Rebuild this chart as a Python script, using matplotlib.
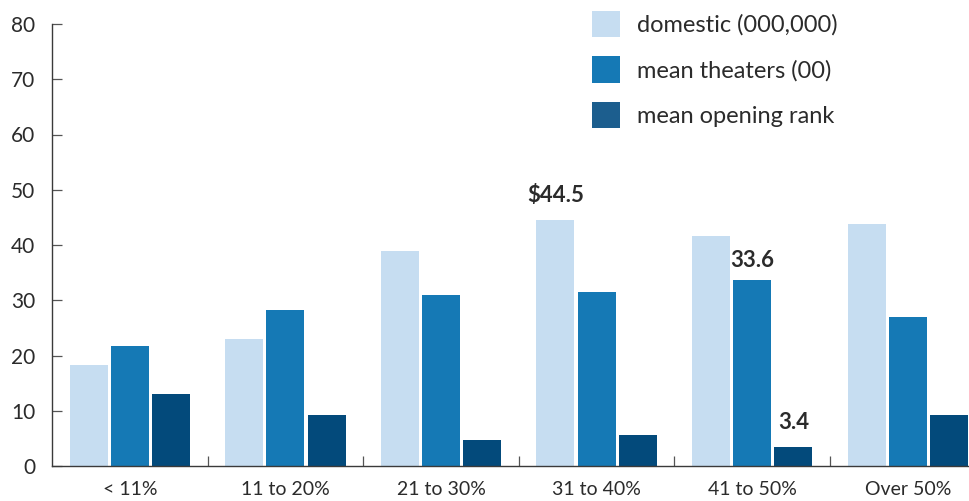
import numpy as np
import matplotlib.pyplot as plt
from matplotlib.patches import Patch

plt.rcParams['font.family'] = ['Lato', 'DejaVu Sans']

# share of budget groups
groups = ['< 11%', '11 to 20%', '21 to 30%', '31 to 40%', '41 to 50%', 'Over 50%']
domestic = [18.3, 23.0, 38.9, 44.5, 41.6, 43.8]
theaters = [21.7, 28.2, 30.9, 31.5, 33.6, 27.0]
opening_rank = [13.0, 9.2, 4.7, 5.6, 3.4, 9.2]
series_names = ['domestic (000,000)', 'mean theaters (00)', 'mean opening rank']

light = '#c6ddf1'
mid = '#1579b5'
dark = '#034a7b'
legend_dark = '#1c5e8e'
ink = '#2b2b2b'

fig = plt.figure(figsize=(9.69, 5.01), dpi=100)
ax = fig.add_axes([52 / 969, 35 / 501, 1 - 52 / 969, 442 / 501])

x = np.arange(len(groups))
w = 0.245
off = 0.265
ax.bar(x - off, domestic, w, color=light)
ax.bar(x, theaters, w, color=mid)
ax.bar(x + off, opening_rank, w, color=dark)

# value labels on a few bars
label_font = dict(fontsize=16, fontweight='bold', color=ink, ha='center', va='bottom')
ax.annotate('$' + f'{domestic[3]:.1f}', (x[3] - off, domestic[3]),
            xytext=(0, 10), textcoords='offset points', **label_font)
ax.annotate(f'{theaters[4]:.1f}', (x[4], theaters[4]),
            xytext=(0, 7), textcoords='offset points', **label_font)
ax.annotate(f'{opening_rank[4]:.1f}', (x[4] + off, opening_rank[4]),
            xytext=(0, 10), textcoords='offset points', **label_font)

ax.set_ylim(0, 80)
ax.set_xlim(-0.5, (969 - 52) / 155.6 - 0.5)
ax.set_yticks(np.arange(0, 81, 10))
ax.set_xticks(x)
ax.set_xticklabels(groups)
ax.set_xticks(np.arange(0.5, 5.0, 1), minor=True)

for s in ['top', 'right']:
    ax.spines[s].set_visible(False)
for s in ['left', 'bottom']:
    ax.spines[s].set_color('#3a3a3a')
    ax.spines[s].set_linewidth(1.0)

ax.tick_params(axis='y', direction='in', length=7, width=0.9, color='#555555',
               labelsize=15, labelcolor=ink, pad=12)
ax.tick_params(axis='x', which='major', length=0, labelsize=14, labelcolor=ink, pad=11)
ax.tick_params(axis='x', which='minor', direction='in', length=7, width=0.9, color='#555555')

handles = [Patch(facecolor=light), Patch(facecolor=mid), Patch(facecolor=legend_dark)]
ax.legend(handles, series_names, loc='upper left', bbox_to_anchor=(0.589, 1.03),
          frameon=False, fontsize=17, labelcolor=ink, borderpad=0, borderaxespad=0,
          handlelength=1.2, handleheight=1.35, handletextpad=0.7, labelspacing=0.8)

plt.savefig('out.png', dpi=100)
